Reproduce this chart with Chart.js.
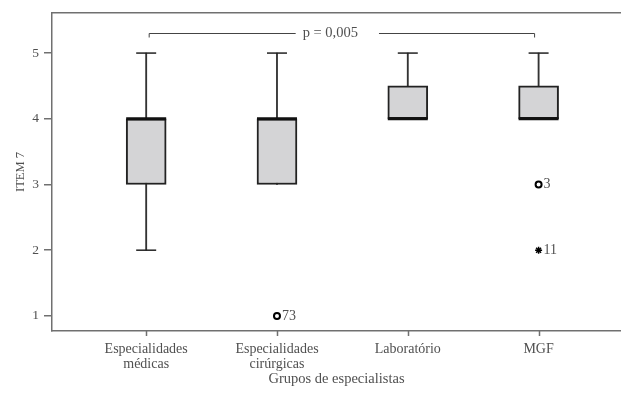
<!DOCTYPE html>
<html>
<head>
<meta charset="utf-8">
<script src="https://cdn.jsdelivr.net/npm/chart.js@4"></script>
<style>
  html, body { margin: 0; padding: 0; background: #fff; }
</style>
</head>
<body>
<canvas id="box-chart" width="621" height="396"></canvas>
<script>
// Grupos (rótulos do eixo x)
const groups = [['Especialidades', 'médicas'], ['Especialidades', 'cirúrgicas'], ['Laboratório'], ['MGF']];
const mins = [2, 3, 4, 4];
const q1s = [3, 3, 4, 4];
const medians = [4, 4, 4, 4];
const q3s = [4, 4, 4.5, 4.5];
const maxs = [5, 5, 5, 5];
// Outliers (o) e extremos (*), posição = número do grupo
const outlierGroups = [2, 4];
const outlierValues = [1, 3];
const outlierLabels = ['73', '3'];
const extremeGroups = [4];
const extremeValues = [2];
const extremeLabels = ['11'];
const yTicks = [1, 2, 3, 4, 5];
const pTest = { from: 1, to: 4, level: 5.3, text: 'p = 0,005' };

const textColor = '#505050';
const axisColor = '#707070';
const boxBorder = '#222';
const serif = "'Liberation Serif', 'Times New Roman', serif";

Chart.defaults.font.family = serif;
Chart.defaults.font.size = 14;
Chart.defaults.color = textColor;

const whiskerData = groups.map((g, i) => ({ x: i + 1, y: [mins[i], maxs[i]] }));
const boxData = groups.map((g, i) => ({ x: i + 1, y: [q1s[i], q3s[i]] }));
const medianData = groups.map((g, i) => ({ x: i + 1, y: medians[i] }));
const capData = [];
groups.forEach((g, i) => {
    capData.push({ x: i + 1, y: maxs[i] });
    if (mins[i] < q1s[i]) capData.push({ x: i + 1, y: mins[i] });
});
const outlierData = outlierGroups.map((g, i) => ({ x: g, y: outlierValues[i] }));
const extremeData = extremeGroups.map((g, i) => ({ x: g, y: extremeValues[i] }));

// Rótulos dos casos ao lado dos pontos
const caseLabels = {
    id: 'caseLabels',
    afterDatasetsDraw(chart) {
        const ctx = chart.ctx;
        ctx.save();
        ctx.font = '14px ' + serif;
        ctx.fillStyle = textColor;
        ctx.textBaseline = 'middle';
        ctx.textAlign = 'left';
        chart.data.datasets.forEach((ds, di) => {
            if (!ds.caseLabels) return;
            chart.getDatasetMeta(di).data.forEach((pt, i) => {
                ctx.fillText(ds.caseLabels[i], pt.x + 5, pt.y);
            });
        });
        ctx.restore();
    }
};

// Chaveta com o valor de p + marcas do eixo x
const pBracket = {
    id: 'pBracket',
    afterDatasetsDraw(chart) {
        const { ctx, scales: { x, y } } = chart;
        const x1 = x.getPixelForValue(pTest.from) + 3;
        const x2 = x.getPixelForValue(pTest.to) - 4;
        const yy = Math.round(y.getPixelForValue(pTest.level)) + 0.5;
        ctx.save();
        ctx.font = '14.5px ' + serif;
        const tw = ctx.measureText(pTest.text).width;
        const cx = x1 + (x2 - x1) * 0.47;
        ctx.strokeStyle = '#444';
        ctx.lineWidth = 1;
        ctx.beginPath();
        ctx.moveTo(x1, yy + 4);
        ctx.lineTo(x1, yy);
        ctx.lineTo(cx - tw / 2 - 7, yy);
        ctx.moveTo(cx + tw / 2 + 21, yy);
        ctx.lineTo(x2, yy);
        ctx.lineTo(x2, yy + 4);
        ctx.stroke();
        ctx.fillStyle = textColor;
        ctx.textAlign = 'center';
        ctx.textBaseline = 'middle';
        ctx.fillText(pTest.text, cx, yy);

        // tick marks under the x axis
        ctx.strokeStyle = axisColor;
        ctx.lineWidth = 1.5;
        ctx.beginPath();
        x.ticks.forEach(t => {
            const px = Math.round(x.getPixelForValue(t.value)) + 0.5;
            ctx.moveTo(px, x.top);
            ctx.lineTo(px, x.top + 5);
        });
        ctx.stroke();
        ctx.restore();
    }
};

const noPadding = s => {
    s.paddingTop = 0; s.paddingBottom = 0;
    s.paddingLeft = 0; s.paddingRight = 0;
};

const ctx = document.getElementById('box-chart').getContext('2d');
new Chart(ctx, {
    type: 'bar',
    data: {
        datasets: [
            {
                data: whiskerData, grouped: false, barThickness: 1.2,
                backgroundColor: '#333', borderWidth: 0, order: 4
            },
            {
                data: boxData, grouped: false, barThickness: 40,
                backgroundColor: '#d4d4d6', borderColor: boxBorder, borderWidth: 2,
                borderSkipped: false, order: 3
            },
            {
                type: 'scatter', data: capData, pointStyle: 'line', pointRadius: 10,
                borderColor: '#222', borderWidth: 1.5, order: 2
            },
            {
                type: 'scatter', data: medianData, pointStyle: 'line', pointRadius: 20,
                borderColor: '#111', borderWidth: 3, order: 1
            },
            {
                type: 'scatter', data: outlierData, pointStyle: 'circle', pointRadius: 3,
                backgroundColor: '#fff', borderColor: '#000', borderWidth: 2,
                caseLabels: outlierLabels, order: 0
            },
            {
                type: 'scatter', data: extremeData, pointStyle: 'star', pointRadius: 3.5,
                backgroundColor: '#000', borderColor: '#000', borderWidth: 1.5,
                caseLabels: extremeLabels, order: 0
            }
        ]
    },
    options: {
        responsive: false,
        animation: false,
        layout: { autoPadding: false, padding: { top: 13, left: 0, right: 0, bottom: 0 } },
        plugins: { legend: { display: false }, tooltip: { enabled: false } },
        scales: {
            x: {
                type: 'linear', position: 'bottom', min: 0.28, max: 4.63, offset: false,
                afterBuildTicks: s => { s.ticks = groups.map((g, i) => ({ value: i + 1 })); },
                afterFit: s => { s.height = 65; noPadding(s); },
                ticks: {
                    callback: v => groups[v - 1], padding: 6, maxRotation: 0, autoSkip: false,
                    font: { size: 14, lineHeight: 1.08 }
                },
                grid: { display: false, tickLength: 5 },
                border: { color: axisColor, width: 1.5 },
                title: { display: true, text: 'Grupos de especialistas', padding: { bottom: 8 }, font: { size: 14.5 } }
            },
            xTop: {
                type: 'linear', position: 'top', min: 0, max: 1, offset: false,
                ticks: { display: false },
                grid: { display: false, drawTicks: false },
                border: { color: axisColor, width: 1.5 },
                afterFit: s => { s.height = 0; noPadding(s); }
            },
            y: {
                min: 0.77, max: 5.61,
                afterBuildTicks: s => { s.ticks = yTicks.map(v => ({ value: v })); },
                afterFit: s => { s.width = 52; noPadding(s); },
                ticks: { padding: 5, font: { size: 13.5 } },
                grid: { drawOnChartArea: false, tickLength: 8, color: axisColor, lineWidth: 1.5 },
                border: { color: axisColor, width: 1.5 },
                title: { display: true, text: 'ITEM 7', padding: { top: 13 }, font: { size: 12.5 } }
            }
        }
    },
    plugins: [caseLabels, pBracket]
});
</script>
</body>
</html>
